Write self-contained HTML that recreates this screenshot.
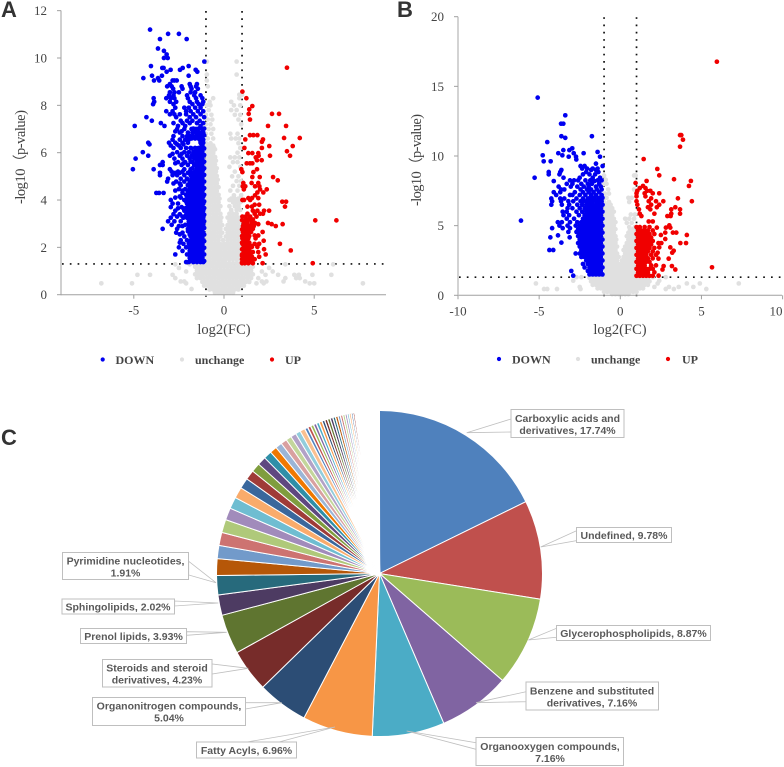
<!DOCTYPE html>
<html lang="en">
<head>
<meta charset="utf-8">
<title>Volcano plots and class pie chart</title>
<style>
html,body{margin:0;padding:0;background:#fff;width:784px;height:767px;overflow:hidden}
svg{display:block;filter:blur(.3px)}
.tick{font:13px "Liberation Serif",serif;fill:#444}
.title{font:14.5px "Liberation Serif",serif;fill:#444}
.leg{font:bold 12px "Liberation Serif",serif;fill:#444}
.letter{font:bold 22px "Liberation Sans",sans-serif;fill:#333}
.pl{font:bold 10.5px "Liberation Sans",sans-serif;fill:#595959;text-anchor:middle}
.box{fill:#fff;stroke:#bfbfbf;stroke-width:1}
.lead{fill:#fff;stroke:#bfbfbf;stroke-width:.8}
</style>
</head>
<body>
<svg id="root" width="784" height="767" viewBox="0 0 784 767" xmlns="http://www.w3.org/2000/svg">
  <text class="letter" x="1" y="17">A</text>
  <text class="letter" x="397" y="17">B</text>
  <text class="letter" x="1" y="445">C</text>
  <g id="panelA"></g>
  <g id="panelB"></g>

  <text class="title" x="224" y="334" text-anchor="middle">log2(FC)</text>
  <text class="title" transform="translate(25,157) rotate(-90)" text-anchor="middle" textLength="94" lengthAdjust="spacing">-log10（p-value)</text>
  <text class="title" x="620" y="334" text-anchor="middle">log2(FC)</text>
  <text class="title" transform="translate(421,160) rotate(-90)" text-anchor="middle" textLength="92" lengthAdjust="spacing">-log10（p-value)</text>

  <g>
    <circle cx="102.7" cy="359.5" r="2.1" fill="#0000f0"/>
    <text class="leg" x="115.5" y="364">DOWN</text>
    <circle cx="182" cy="359.5" r="2.1" fill="#e0e0e0"/>
    <text class="leg" x="195" y="364">unchange</text>
    <circle cx="272" cy="359.5" r="2.1" fill="#f00000"/>
    <text class="leg" x="285" y="364">UP</text>
  </g>
  <g>
    <circle cx="499" cy="359" r="2.1" fill="#0000f0"/>
    <text class="leg" x="512" y="363.5">DOWN</text>
    <circle cx="578" cy="359" r="2.1" fill="#e0e0e0"/>
    <text class="leg" x="591" y="363.5">unchange</text>
    <circle cx="668" cy="359" r="2.1" fill="#f00000"/>
    <text class="leg" x="682" y="363.5">UP</text>
  </g>

  <g id="pie"></g>

  <g>
    <g>
      <polygon class="lead" points="511,419 511,432 466.7,432.7"/>
      <rect class="box" x="511" y="409.5" width="113" height="28"/>
      <text class="pl" x="567.5" y="422">Carboxylic acids and</text>
      <text class="pl" x="567.5" y="434">derivatives, 17.74%</text>
    </g>
    <g>
      <polygon class="lead" points="576.5,530.7 576.5,540.7 540.7,547"/>
      <rect class="box" x="576.5" y="527.5" width="95" height="15"/>
      <text class="pl" x="624" y="539">Undefined, 9.78%</text>
    </g>
    <g>
      <polygon class="lead" points="556.5,628.3 556.5,637.3 528.3,640"/>
      <rect class="box" x="556.5" y="625.5" width="154" height="15"/>
      <text class="pl" x="633.5" y="637">Glycerophospholipids, 8.87%</text>
    </g>
    <g>
      <polygon class="lead" points="526,691.7 526,701.7 476,702.7"/>
      <rect class="box" x="526" y="682" width="132.5" height="28"/>
      <text class="pl" x="592" y="694.5">Benzene and substituted</text>
      <text class="pl" x="592" y="706.5">derivatives, 7.16%</text>
    </g>
    <g>
      <polygon class="lead" points="476,742.7 476,749.3 406.7,731"/>
      <rect class="box" x="476" y="737.5" width="147.5" height="28"/>
      <text class="pl" x="550" y="750">Organooxygen compounds,</text>
      <text class="pl" x="550" y="762">7.16%</text>
    </g>
    <g>
      <polygon class="lead" points="247,742 279,742 335,727"/>
      <rect class="box" x="196.5" y="742" width="100" height="16"/>
      <text class="pl" x="246.5" y="754">Fatty Acyls, 6.96%</text>
    </g>
    <g>
      <polygon class="lead" points="245.3,702.7 245.3,709 281.7,702.7"/>
      <rect class="box" x="92.5" y="697.5" width="153" height="28"/>
      <text class="pl" x="169" y="709.5">Organonitrogen compounds,</text>
      <text class="pl" x="169" y="721.5">5.04%</text>
    </g>
    <g>
      <polygon class="lead" points="212,664 212,674 248.3,668.3"/>
      <rect class="box" x="102.5" y="659.5" width="109.5" height="27.5"/>
      <text class="pl" x="157" y="671.5">Steroids and steroid</text>
      <text class="pl" x="157" y="683.5">derivatives, 4.23%</text>
    </g>
    <g>
      <polygon class="lead" points="186.7,631.7 186.7,635.3 226.7,632.3"/>
      <rect class="box" x="80.5" y="628.5" width="106" height="15"/>
      <text class="pl" x="133.5" y="640">Prenol lipids, 3.93%</text>
    </g>
    <g>
      <polygon class="lead" points="174.7,601 174.7,606 218.3,603"/>
      <rect class="box" x="62" y="599" width="112.5" height="15"/>
      <text class="pl" x="118" y="610.5">Sphingolipids, 2.02%</text>
    </g>
    <g>
      <polygon class="lead" points="188.7,561.3 188.7,575 216,582.7"/>
      <rect class="box" x="62.5" y="552.5" width="126" height="27"/>
      <text class="pl" x="125.5" y="564.5">Pyrimidine nucleotides,</text>
      <text class="pl" x="125.5" y="576.5">1.91%</text>
    </g>
  </g>
</svg>

<script>
// Volcano data: each row is [-log10 p, log2FC, log2FC, ...]
const aDownRows = [
[11.2,-4.1],[11.02,-3.1,-2.5],[10.8,-3.55,-2.07],[10.4,-3.66],[10.3,-3.33],[10.15,-3.18],[10.0,-3.12,-3.33],[9.85,-1.09],
[9.66,-4.05,-1.96],[9.58,-3.42,-3.35,-2.29],[9.5,-2.96,-2.44,-1.57],[9.42,-3.18,-1.48],[9.25,-3.99,-3.44,-1.96],[9.15,-4.47,-3.66],
[9.05,-3.88,-3.59,-2.85,-2.62,-2.75],[8.9,-3.0,-1.5,-1.9],[8.8,-3.15,-2.9,-2.35,-1.85,-1.55],[8.7,-2.82,-2.3,-1.8,-1.45],
[8.55,-3.0,-2.75,-2.5,-1.85,-1.6],[8.42,-3.05,-2.8,-2.05,-1.65,-1.3],[8.3,-3.9,-3.2,-2.95,-2.75,-2.0,-1.55,-1.2],
[8.15,-3.87,-3.0,-2.65,-1.9,-1.5,-1.15],[8.05,-3.93,-2.8,-1.75,-1.4,-1.2],[7.9,-2.7,-2.2,-1.95,-1.6,-1.3],
[7.75,-3.2,-2.85,-2.1,-1.85,-1.45,-1.15],[7.62,-3.0,-2.75,-2.45,-2.1,-1.7,-1.3],[7.5,-4.3,-2.65,-1.9,-1.55,-1.1],
[7.35,-4.0,-2.4,-2.05,-1.75,-1.35],[7.25,-3.5,-2.8,-2.3,-1.9,-1.5,-1.15],[7.13,-4.95,-3.3,-2.55,-2.15,-1.3],
[7.0,-2.6,-2.2,-1.8,-1.55,-1.2],[6.85,-2.45,-2.0,-1.75,-1.4,-1.15],[6.7,-2.8,-2.3,-2.05,-1.9,-1.7,-1.5,-1.2],
[6.55,-2.85,-2.45,-2.15,-1.95,-1.35,-1.15],[6.42,-4.2,-3.05,-2.7,-2.3,-2.0,-1.3,-1.15],[6.35,-4.13,-2.6,-2.25,-1.25],
[6.2,-2.8,-2.4,-2.1,-1.85,-1.6,-1.4,-1.15],[6.02,-4.5,-2.6,-2.2,-1.95,-1.7,-1.5,-1.25],[5.87,-4.2,-3.0,-2.45,-2.05,-1.8,-1.55,-1.15],
[5.75,-4.9,-2.75,-2.3,-1.9,-1.65,-1.35],[5.6,-3.4,-2.55,-2.15,-1.75,-1.5,-1.15],[5.48,-3.55,-3.4,-2.35,-2.0,-1.65,-1.3],
[5.3,-5.05,-3.9,-3.0,-2.2,-1.85,-1.5,-1.15],[5.15,-3.55,-2.7,-2.45,-2.0,-1.7,-1.35],[5.05,-3.55,-2.85,-2.6,-2.2,-1.85,-1.55,-1.15],
[4.9,-3.1,-2.4,-2.05,-1.7,-1.35],[4.78,-3.15,-2.65,-2.2,-1.9,-1.5,-1.15],[4.62,-2.4,-2.0,-1.75,-1.55,-1.3],
[4.46,-2.5,-2.15,-1.9,-1.65,-1.45,-1.15],[4.3,-3.75,-3.6,-3.35,-2.3,-2.0,-1.75,-1.5,-1.3],[4.15,-2.45,-2.05,-1.85,-1.6,-1.4,-1.15],
[4.0,-2.95,-2.2,-1.95,-1.7,-1.5,-1.3],[3.85,-2.85,-2.55,-2.05,-1.8,-1.6,-1.4,-1.15],[3.7,-2.95,-2.35,-1.95,-1.75,-1.5,-1.3],
[3.55,-2.7,-2.2,-2.0,-1.8,-1.6,-1.4,-1.15],[3.4,-2.8,-2.45,-1.95,-1.7,-1.5,-1.3],[3.25,-2.95,-2.25,-2.05,-1.8,-1.6,-1.4,-1.15],
[3.1,-3.1,-2.75,-2.4,-1.95,-1.7,-1.5,-1.3],[2.95,-2.9,-2.15,-1.85,-1.65,-1.45,-1.15],[2.78,-3.4,-2.6,-2.0,-1.75,-1.55,-1.3],
[2.62,-2.65,-2.3,-1.9,-1.65,-1.45,-1.15],[2.46,-2.2,-1.85,-1.6,-1.4,-1.25],[2.3,-2.4,-2.05,-1.75,-1.5,-1.3,-1.15],
[2.15,-2.25,-1.95,-1.65,-1.45,-1.2],[2.0,-2.5,-2.1,-1.8,-1.55,-1.35,-1.15],[1.85,-2.3,-1.9,-1.65,-1.4,-1.2],
[1.7,-2.7,-2.05,-1.75,-1.5,-1.3,-1.15],[1.55,-1.9,-1.6,-1.4,-1.2],[1.38,-2.1,-1.95,-1.7,-1.5,-1.3,-1.15]
];
const aDownScatter = [
[6.9,-2.7,-2.35],[6.3,-2.95,-2.5],[5.95,-2.85,-2.35],[5.55,-2.7,-2.25],[5.2,-2.9,-2.55,-2.3],[4.7,-2.8,-2.45],[4.4,-2.7,-2.3],[4.1,-2.7,-2.4],[3.65,-2.55,-2.25],[3.3,-2.6,-2.3],[2.9,-2.5,-2.3],[2.55,-2.45],[2.2,-2.45]
];
const aDownCore = [
[1.42,-1.1,-1.3,-1.5,-1.7,-1.9],[1.56,-1.2,-1.4,-1.6,-1.8],[1.7,-1.1,-1.3,-1.5,-1.7,-1.9],[1.84,-1.2,-1.4,-1.6,-1.8],[1.98,-1.1,-1.3,-1.5,-1.7,-1.9],
[2.12,-1.2,-1.4,-1.6,-1.8],[2.26,-1.1,-1.3,-1.5,-1.7,-1.9],[2.4,-1.2,-1.4,-1.6,-1.8],[2.54,-1.1,-1.3,-1.5,-1.7,-1.9],[2.68,-1.2,-1.4,-1.6,-1.8,-2.0],
[2.82,-1.1,-1.3,-1.5,-1.7,-1.9],[2.96,-1.2,-1.4,-1.6,-1.8,-2.0],[3.1,-1.1,-1.3,-1.5,-1.7,-1.9],[3.24,-1.2,-1.4,-1.6,-1.8,-2.0],[3.38,-1.1,-1.3,-1.5,-1.7,-1.9,-2.1],
[3.52,-1.2,-1.4,-1.6,-1.8,-2.0],[3.66,-1.1,-1.3,-1.5,-1.7,-1.9,-2.1],[3.8,-1.2,-1.4,-1.6,-1.8,-2.0],[3.94,-1.1,-1.3,-1.5,-1.7,-1.9,-2.1],[4.08,-1.2,-1.4,-1.6,-1.8,-2.0],
[4.22,-1.1,-1.3,-1.5,-1.7,-1.9,-2.1],[4.36,-1.2,-1.4,-1.6,-1.8,-2.0],[4.5,-1.1,-1.3,-1.5,-1.7,-1.9],[4.64,-1.2,-1.4,-1.6,-1.8,-2.0],[4.78,-1.1,-1.3,-1.5,-1.7,-1.9],
[4.92,-1.2,-1.4,-1.6,-1.8],[5.06,-1.1,-1.3,-1.5,-1.7],[5.2,-1.2,-1.4,-1.6,-1.9],[5.34,-1.1,-1.3,-1.5,-1.75],[5.48,-1.2,-1.4,-1.6],[5.62,-1.1,-1.3,-1.5,-1.85],
[5.76,-1.2,-1.4,-1.6],[5.9,-1.1,-1.3,-1.5,-1.75],[6.04,-1.2,-1.4,-1.6],[6.18,-1.1,-1.3,-1.5,-1.8],[6.32,-1.2],[6.6,-1.2,-1.4,-1.6,-1.8],[6.74,-1.1,-1.3,-1.5],[6.88,-1.2,-1.6],[7.02,-1.1,-1.4,-1.7]
];
const aGreyRows = [
[9.85,-0.95,0.7],[9.3,0.7,-0.95],[9.05,-0.95],[8.8,-0.9],[8.45,0.85,1.0],[8.3,-0.6,0.85],[8.15,-0.8,0.4],[8.0,-0.95,-0.75,0.55,0.9],
[7.8,-0.85,0.4,0.7],[7.6,-1.0,-0.7,0.6,0.9],[7.4,-0.9,-0.65,0.8],[7.2,-1.0,-0.75,0.95],[7.0,-0.85,-0.6],[6.8,-1.0,-0.7,0.35,0.75],
[6.6,-0.9,-0.6,0.4,0.65,0.85],[6.4,-1.0,-0.75,0.8],[6.2,-0.9,-0.7,-0.55,0.9],[6.0,-1.0,-0.8,-0.6,0.75],[5.8,-0.9,-0.7,-0.5,0.35,0.6,0.85],
[5.6,-1.0,-0.85,-0.65,0.5,0.75],[5.4,-0.95,-0.75,-0.55,0.3,0.9],[5.2,-1.0,-0.85,-0.65,-0.45,0.6],[5.0,-0.95,-0.75,-0.55,0.45,0.8],
[4.8,-1.0,-0.85,-0.65,-0.45,0.7,0.95],[4.6,0.5,0.85],[4.4,0.35,0.75],[4.2,0.55,0.95],[4.0,0.3,0.7,0.9],
[1.28,-2.7,-1.9,3.4,6.05],[1.13,-2.5,2.5],[0.98,-2.1,2.1,2.7],[0.84,-4.8,-4.1,-2.85,2.3,3.0,3.9,4.15,4.9,5.95],
[0.7,-2.7,1.9,3.4,4.0,4.2],[0.56,-2.4,-2.2,2.1,2.35,3.3,4.5],[0.48,-6.8,-5.1,-2.1,1.8,2.2,4.75,5.0,7.7],[0.24,-1.8]
];
const aGreyCore = [
[6.3,-1.0,-0.8,-0.6],[6.14,-0.9,-0.7,-0.5],[5.98,-1.0,-0.8,-0.6],[5.82,-0.9,-0.7,-0.5],[5.66,-1.0,-0.8,-0.6,-0.45],[5.5,-0.9,-0.7,-0.5],[5.34,-1.0,-0.8,-0.6,-0.4],[5.18,-0.9,-0.7,-0.5],
[5.02,-1.0,-0.8,-0.6,-0.4],[4.86,-0.9,-0.7,-0.5,-0.35],[4.7,-1.0,-0.8,-0.6,-0.4],[4.54,-0.9,-0.7,-0.5,-0.3],[4.38,-1.0,-0.8,-0.6,-0.4],[4.22,-0.9,-0.7,-0.5,-0.3],
[4.06,-1.0,-0.8,-0.6,-0.4,-0.25,0.4,0.6,0.8],[3.9,-0.9,-0.7,-0.5,-0.3,0.5,0.7,0.9],[3.74,-1.0,-0.8,-0.6,-0.4,-0.2,0.3,0.6,0.8],[3.58,-0.9,-0.7,-0.5,-0.3,0.4,0.7,0.9],
[3.42,-1.0,-0.8,-0.6,-0.4,-0.2,0.3,0.5,0.7],[3.26,-0.9,-0.7,-0.5,-0.3,-0.15,0.2,0.4,0.6,0.8],[3.1,-1.0,-0.8,-0.6,-0.4,-0.2,0.3,0.5,0.7,0.9],[2.94,-0.9,-0.7,-0.5,-0.3,-0.1,0.2,0.4,0.6,0.8],
[2.78,-1.0,-0.8,-0.6,-0.4,-0.2,0.1,0.3,0.5,0.7,0.9],[2.62,-0.9,-0.7,-0.5,-0.3,-0.1,0.2,0.4,0.6,0.8,1.0],[2.46,-1.0,-0.8,-0.6,-0.4,-0.2,0.1,0.3,0.5,0.7,0.9],[2.3,-0.9,-0.7,-0.5,-0.3,-0.05,0.2,0.4,0.6,0.8,1.0],
[2.14,-1.0,-0.8,-0.6,-0.4,-0.2,0,0.1,0.3,0.5,0.7,0.9],[1.98,-0.9,-0.7,-0.5,-0.3,-0.1,0.1,0.2,0.4,0.6,0.8,1.0],[1.82,-1.0,-0.8,-0.6,-0.4,-0.2,0,0.1,0.3,0.5,0.7,0.9],[1.66,-0.9,-0.7,-0.5,-0.3,-0.1,0.1,0.2,0.4,0.6,0.8,1.0],
[1.5,-1.0,-0.8,-0.6,-0.4,-0.2,0,0.1,0.3,0.5,0.7,0.9],[1.34,-1.7,-1.5,-1.3,-1.1,-0.9,-0.7,-0.5,-0.3,-0.1,0.1,0.3,0.5,0.7,0.9,1.1,1.3,1.5],
[1.18,-1.6,-1.4,-1.2,-1.0,-0.8,-0.6,-0.4,-0.2,0,0.2,0.4,0.6,0.8,1.0,1.2,1.4,1.6],[1.02,-1.5,-1.3,-1.1,-0.9,-0.7,-0.5,-0.3,-0.1,0.1,0.3,0.5,0.7,0.9,1.1,1.3,1.5],
[0.86,-1.6,-1.4,-1.2,-1.0,-0.8,-0.6,-0.4,-0.2,0,0.2,0.4,0.6,0.8,1.0,1.2,1.4,1.6],[0.7,-1.5,-1.3,-1.1,-0.9,-0.7,-0.5,-0.3,-0.1,0.1,0.3,0.5,0.7,0.9,1.1,1.3,1.5],
[0.54,-1.2,-1.0,-0.8,-0.6,-0.4,-0.2,0,0.2,0.4,0.6,0.8,1.0,1.2,1.4],[0.38,-1.1,-0.9,-0.7,-0.5,-0.3,-0.1,0.1,0.3,0.5,0.7,0.9,1.1],[0.22,-0.8,-0.6,-0.4,-0.2,0,0.2,0.4,0.6,0.8],[0.08,-0.5,-0.3,-0.1,0.1,0.3,0.5]
];
const aUpRows = [
[9.59,3.49],[8.58,1.02],[8.3,1.24],[7.97,1.57],[7.83,1.4],[7.64,1.37,2.66,3.05],[7.4,1.44],[7.13,2.44,3.44],[6.74,1.44,1.63,1.85],[6.62,3.33,4.2],
[6.56,1.18,2.16],[6.46,2.1],[6.28,2.51,3.81],[6.2,1.13,2.1],[6.06,3.49],[5.98,1.35,1.57,1.9],[5.87,1.92,2.55,3.66],[5.8,1.76],[5.68,1.83,2.09],
[5.55,1.26,1.44,1.57],[5.3,0.96,1.83],[5.18,1.02,1.63],[4.97,2.72,1.57,1.98],[4.83,2.98],[4.72,1.07,1.53,1.9],[4.58,1.04,1.18,1.72,1.96],
[4.45,1.1,2.0,2.37],[4.32,2.18,1.85],[4.2,1.72],[4.08,1.35,1.55,1.9],[4.0,1.02,1.11,1.45],[3.93,3.23,3.44],[3.8,1.7,1.95],[3.72,3.38,1.3,1.55],
[3.55,1.6,1.85,2.22,2.5],[3.42,1.3,1.7,2.16,2.0],[3.3,1.02,1.2,1.45,1.8],[3.18,1.35,1.6],[3.14,5.06,6.23],[3.03,1.1,1.3,1.55,1.72,2.44],[2.98,2.64,3.25,1.9],
[2.9,1.05,1.25,1.45,2.87],[2.78,1.15,1.35,1.6],[2.65,1.05,1.3,1.5,2.14],[2.5,1.1,1.25,1.7,1.9],[2.38,1.02,1.18,1.35,1.75],[2.28,1.1,1.28,2.2],
[2.15,1.02,1.2,1.4,1.7,1.95,3.1],[2.02,1.1,1.3,1.55,1.85],[1.92,1.02,1.2,1.4,2.22],[1.87,3.7],[1.8,1.1,1.3,1.6,1.9],[1.7,1.0,1.2,1.45,2.31],
[1.6,1.1,1.3,1.55,1.95],[1.5,1.0,1.2,1.4,1.7],[1.4,1.08,1.25,1.5],[1.33,1.0,1.15,1.35,1.6,2.14,4.92]
];
const aUpCore = [
[1.36,1.0,1.2,1.4],[1.5,1.1,1.3,1.5],[1.64,1.0,1.2,1.4],[1.78,1.1,1.3,1.5],[1.92,1.0,1.2,1.4],[2.06,1.1,1.3,1.5],[2.2,1.0,1.2,1.4],[2.34,1.1,1.3],[2.48,1.0,1.2,1.4],[2.62,1.1,1.3],[2.76,1.0,1.2,1.4,1.55],[2.9,1.1,1.3,1.65],[3.15,1.0,1.2,1.5]
];
const bDownRows = [
[14.19,-5.09],[12.92,-3.39],[12.32,-3.65,-3.51],[11.42,-3.63,-1.75],[11.3,-3.39],[11.0,-4.5],[10.55,-2.96],[10.42,-3.51,-3.14],[10.29,-1.4],
[10.2,-3.82,-2.87,-2.26],[10.05,-4.78,-3.57],[9.95,-3.18,-2.73,-1.25],[9.75,-2.71],[9.62,-4.72,-4.29],[9.45,-1.5],[9.28,-2.45,-2.2,-1.09],
[9.1,-2.35,-2.05,-1.7,-1.4],[9.0,-3.63,-1.8,-1.5],[8.85,-4.41,-3.7,-2.1,-1.35],[8.68,-4.41,-3.75,-2.3,-1.9,-1.55],[8.44,-5.28,-3.5,-2.5,-1.7,-1.25],
[8.25,-3.1,-2.85,-2.6,-2.15,-1.85,-1.4,-1.15],[8.2,-4.1,-1.6],[8.0,-3.3,-2.95,-2.4,-2.0,-1.75,-1.3],[7.8,-3.8,-3.05,-2.65,-2.25,-1.95,-1.5,-1.2],
[7.6,-3.65,-3.45,-2.45,-2.05,-1.8,-1.45,-1.15],[7.4,-4.1,-3.7,-2.8,-2.3,-1.95,-1.65,-1.3],[7.2,-3.95,-3.1,-2.95,-2.5,-2.15,-1.8,-1.5,-1.15],
[6.95,-4.25,-3.7,-3.45,-2.7,-2.3,-2.0,-1.7,-1.35],[6.75,-4.2,-3.65,-3.2,-2.9,-2.45,-2.1,-1.8,-1.5,-1.15],[6.5,-4.25,-3.6,-3.15,-2.65,-2.35,-2.0,-1.7,-1.35,-1.1],
[6.25,-3.25,-2.95,-2.5],[6.0,-3.55,-3.3,-2.7],[5.75,-3.5,-3.15,-2.55],[5.5,-3.3,-2.85],[5.36,-6.12],[5.25,-3.85,-3.6,-3.1,-2.65],[5.0,-3.75,-3.25,-2.75],
[4.82,-4.2,-3.55,-3.1],[4.55,-3.2,-2.7],[4.3,-3.84],[4.16,-4.31,-3.12],[3.78,-3.63],[3.25,-4.37,-4.13],[3.0,-2.75],[1.75,-3.02],[1.41,-2.9]
];
const bDownCore = [
[1.5,-1.1,-1.3,-1.5,-1.7,-1.9],[1.75,-1.2,-1.4,-1.6,-1.8,-2.0],[2.0,-1.1,-1.3,-1.5,-1.7,-1.9,-2.2],[2.25,-1.2,-1.4,-1.6,-1.8,-2.0,-2.3],[2.5,-1.1,-1.3,-1.5,-1.7,-1.9,-2.1],
[2.75,-1.2,-1.4,-1.6,-1.8,-2.0,-2.2,-2.4],[3.0,-1.1,-1.3,-1.5,-1.7,-1.9,-2.1,-2.3,-2.5],[3.25,-1.2,-1.4,-1.6,-1.8,-2.0,-2.2,-2.4],[3.5,-1.1,-1.3,-1.5,-1.7,-1.9,-2.1,-2.3,-2.5],
[3.75,-1.2,-1.4,-1.6,-1.8,-2.0,-2.2,-2.4,-2.6],[4.0,-1.1,-1.3,-1.5,-1.7,-1.9,-2.1,-2.3,-2.5],[4.25,-1.2,-1.4,-1.6,-1.8,-2.0,-2.2,-2.4,-2.6],[4.5,-1.1,-1.3,-1.5,-1.7,-1.9,-2.1,-2.3,-2.5],
[4.75,-1.2,-1.4,-1.6,-1.8,-2.0,-2.2,-2.4,-2.6],[5.0,-1.1,-1.3,-1.5,-1.7,-1.9,-2.1,-2.3,-2.5],[5.25,-1.2,-1.4,-1.6,-1.8,-2.0,-2.2,-2.4],[5.5,-1.1,-1.3,-1.5,-1.7,-1.9,-2.1,-2.3],
[5.75,-1.2,-1.4,-1.6,-1.8,-2.0,-2.2],[6.0,-1.1,-1.3,-1.5,-1.7,-1.9,-2.1,-2.35],[6.25,-1.2,-1.4,-1.6,-1.8,-2.0,-2.2],[6.5,-1.1,-1.3,-1.5,-1.9,-2.1],[6.75,-1.2,-1.4,-1.7,-2.0,-2.3],[7.0,-1.1,-1.3,-1.6,-1.85]
];
const bGreyRows = [
[8.6,-1.0,0.85,0.95],[8.3,-0.9],[8.0,-1.0,-0.85],[7.6,-0.75,0.85],[7.3,-0.95,-0.7],[7.0,-0.85,0.5,0.7],[6.7,-1.0,-0.7,0.55],[6.4,-0.9,-0.65],
[5.8,0.65,0.9],[5.5,0.3,0.55,0.85],[5.2,0.4,0.7],[4.9,0.55,0.9],
[1.3,-2.7,-2.4,2.0,2.8],[1.05,-2.9,2.4],[0.85,-5.2,2.3,4.1,4.9,7.3],[0.6,-2.5,2.1,3.0,3.6,4.5],[0.45,-4.7,-4.5,-3.9,-2.45,2.8,3.3,5.3]
];
const bGreyCore = [
[6.5,-1.0,-0.8,-0.6],[6.25,-0.9,-0.7,-0.5],[6.0,-1.0,-0.8,-0.6,-0.4],[5.75,-0.9,-0.7,-0.5],[5.5,-1.0,-0.8,-0.6,-0.4],[5.25,-0.9,-0.7,-0.5,-0.3],[5.0,-1.0,-0.8,-0.6,-0.4],[4.75,-0.9,-0.7,-0.5,-0.3,0.6,0.8],
[4.5,-1.0,-0.8,-0.6,-0.4,0.5,0.7,0.9],[4.25,-0.9,-0.7,-0.5,-0.3,0.4,0.6,0.8],[4.0,-1.0,-0.8,-0.6,-0.4,-0.25,0.5,0.7,0.9],[3.75,-0.9,-0.7,-0.5,-0.3,0.4,0.6,0.8],[3.5,-1.0,-0.8,-0.6,-0.4,-0.2,0.3,0.5,0.7,0.9],
[3.25,-0.9,-0.7,-0.5,-0.3,0.2,0.4,0.6,0.8],[3.0,-1.0,-0.8,-0.6,-0.4,-0.2,0.3,0.5,0.7,0.9],[2.75,-0.9,-0.7,-0.5,-0.3,-0.1,0.2,0.4,0.6,0.8],[2.5,-1.0,-0.8,-0.6,-0.4,-0.2,0.1,0.3,0.5,0.7,0.9],
[2.25,-0.9,-0.7,-0.5,-0.3,-0.1,0.1,0.2,0.4,0.6,0.8],[2.0,-1.0,-0.8,-0.6,-0.4,-0.2,0,0.1,0.3,0.5,0.7,0.9],[1.75,-0.9,-0.7,-0.5,-0.3,-0.1,0.1,0.2,0.4,0.6,0.8],[1.5,-1.0,-0.8,-0.6,-0.4,-0.2,0,0.1,0.3,0.5,0.7,0.9],
[1.25,-1.9,-1.7,-1.5,-1.3,-1.1,-0.9,-0.7,-0.5,-0.3,-0.1,0.1,0.3,0.5,0.7,0.9,1.1,1.3,1.5,1.7],[1.0,-1.8,-1.6,-1.4,-1.2,-1.0,-0.8,-0.6,-0.4,-0.2,0,0.2,0.4,0.6,0.8,1.0,1.2,1.4,1.6,1.8],
[0.75,-1.7,-1.5,-1.3,-1.1,-0.9,-0.7,-0.5,-0.3,-0.1,0.1,0.3,0.5,0.7,0.9,1.1,1.3,1.5,1.7],[0.5,-1.4,-1.2,-1.0,-0.8,-0.6,-0.4,-0.2,0,0.2,0.4,0.6,0.8,1.0,1.2,1.4],
[0.25,-1.0,-0.8,-0.6,-0.4,-0.2,0,0.2,0.4,0.6,0.8,1.0],[0.08,-0.5,-0.3,-0.1,0.1,0.3,0.5]
];
const bUpRows = [
[16.77,5.95],[11.5,3.68,3.76],[11.17,3.86],[10.67,3.68],[9.78,1.44],[9.07,2.28],[8.61,2.4],[8.33,3.31],[8.21,4.35,1.62],[8.06,0.94],[7.85,4.23,1.4],
[7.7,1.2,1.55],[7.5,1.65,1.85,1.05],[7.32,2.4,1.0,1.5,2.0],[7.1,1.55,1.0],[6.96,3.55,1.9],[6.75,4.41,2.65,1.0,2.2,1.75],[6.5,1.05,1.9,2.4],[6.32,3.39,2.25,1.7],
[6.17,3.14,3.68,1.15,1.85],[5.86,3.14,3.68,1.2,2.1],[5.69,2.9,3.1,1.3],[5.3,1.75,2.0],[5.02,3.02],[4.86,2.81,3.08,2.25],[4.5,3.24,3.45,2.77],[4.33,4.1,2.5],
[4.04,2.77],[3.75,2.53,3.7,4.05,2.35],[3.44,3.08,2.4],[3.2,3.29],[3.06,3.2,2.3],[2.63,2.98,2.35],[2.1,3.18,2.67],[2.01,5.65],[1.85,3.39,2.6],[1.41,2.36]
];
const bUpCore = [
[1.4,1.0,1.2,1.4,1.6,1.8,2.0],[1.65,1.1,1.3,1.5,1.7,2.1],[1.9,1.0,1.2,1.4,1.6,1.8,2.0],[2.15,1.1,1.3,1.5,1.9,2.2],[2.4,1.0,1.2,1.4,1.6,1.8],[2.65,1.1,1.3,1.5,1.7,2.0],[2.9,1.0,1.2,1.4,1.6,1.9,2.2],
[3.15,1.1,1.3,1.5,1.7,2.0],[3.4,1.0,1.2,1.4,1.6,1.8,2.1],[3.65,1.1,1.3,1.5,1.7,1.9],[3.9,1.0,1.2,1.4,1.6,1.8,2.0],[4.15,1.1,1.3,1.5,1.7,1.9],[4.4,1.0,1.2,1.4,1.6,1.8,2.1],[4.65,1.1,1.3,1.5,1.7,2.0],[4.9,1.0,1.2,1.5,1.8]
];
// Pie data: share of each class, clockwise from the top, in percent
const pieValues = [17.74,9.78,8.87,7.16,7.16,6.96,5.04,4.23,3.93,2.02,1.91,
1.66,1.3,1.3,1.3,1.2,1.15,1.1,1.05,.95,.9,.85,.8,.7,.65,.6,.55,.55,.5,.5,
.32,.32,.3,.3,.3,.3,.28,.28,.28,.28,.26,.26,.24,.24,.22,.22,.2,.2,.18,.18,
.08,.08,.08,.08,.08,.08,.08,.08,.08,.08,.08,.08,.08,.08,.08,.08,.08,.08,.08,.08,.08,.08,.08,.08,.08,.08,.08,.08,.08,.08];
const pieColors = ["#4f81bd","#c0504d","#9bbb59","#8064a2","#4bacc6","#f79646","#2c4d75","#772c2a","#5f7530","#4d3b62","#276a7c","#b65708","#729aca","#cd7371","#afc97a","#a18bbb","#6fbdd1","#f9ab6b","#3a679c","#9f3b38","#7f9d3e","#5f4880","#2f8fa8","#f07800","#9bb5d6","#d9a0a0","#c3d69b","#b2a2c7","#92cddc","#fac090"];
const xTicksA = [-5,0,5];
const xTicksB = [-10,-5,0,5,10];
const yTicksA = [0,2,4,6,8,10,12];
const yTicksB = [0,5,10,15,20];
const pThreshold = 1.3;
const fcThresholds = [-1,1];

const SVGNS = "http://www.w3.org/2000/svg";
function mk(tag, parent){ const e = document.createElementNS(SVGNS, tag); parent.appendChild(e); return e; }

function drawVolcano(root, id, sx, sy, ext, xTicks, yTicks, rows, yAxisStyle){
  const x0 = ext.left, x1 = ext.right, y0 = ext.bottom, y1 = ext.top;
  fcThresholds.forEach(function(v){
    const d = mk("line", root);
    d.setAttribute("x1", sx(v)); d.setAttribute("x2", sx(v));
    d.setAttribute("y1", y1 + .5); d.setAttribute("y2", y0 + 2);
    d.setAttribute("stroke", "#111"); d.setAttribute("stroke-width", "1.7");
    d.setAttribute("stroke-dasharray", "1.7 5.6");
    
    
  });
  const h = mk("line", root);
  h.setAttribute("x1", x0 + 1); h.setAttribute("x2", x1);
  h.setAttribute("y1", sy(pThreshold)); h.setAttribute("y2", sy(pThreshold));
  h.setAttribute("stroke", "#111"); h.setAttribute("stroke-width", "1.7");
  h.setAttribute("stroke-dasharray", "1.7 6.1");
  
  
  rows.forEach(function(group){
    const series = mk("g", root);
    
    
    group.data.forEach(function(row){
      for (let i = 1; i < row.length; i++) {
        const c = mk("circle", series);
        c.setAttribute("cx", sx(row[i]).toFixed(2));
        c.setAttribute("cy", sy(row[0]).toFixed(2));
        c.setAttribute("r", "2.35");
        c.setAttribute("fill", group.color);
        
        
      }
    });
  });
  const xAxis = mk("line", root);
  xAxis.setAttribute("x1", x0); xAxis.setAttribute("x2", x1);
  xAxis.setAttribute("y1", y0); xAxis.setAttribute("y2", y0);
  xAxis.setAttribute("stroke", "#a0a0a0"); xAxis.setAttribute("stroke-width", "1");
  
  
  const yAxis = mk("line", root);
  yAxis.setAttribute("x1", x0); yAxis.setAttribute("x2", x0);
  yAxis.setAttribute("y1", y1); yAxis.setAttribute("y2", y0 + .5);
  yAxis.setAttribute("stroke", yAxisStyle.color); yAxis.setAttribute("stroke-width", yAxisStyle.width);
  
  
  xTicks.forEach(function(v){
    const t = mk("line", root);
    t.setAttribute("x1", sx(v)); t.setAttribute("x2", sx(v));
    t.setAttribute("y1", y0); t.setAttribute("y2", y0 + 4);
    t.setAttribute("stroke", "#a0a0a0");
    
    
    const l = mk("text", root);
    l.setAttribute("class", "tick");
    l.setAttribute("x", Math.min(sx(v), 776));
    l.setAttribute("y", y0 + 20);
    l.setAttribute("text-anchor", "middle");
    l.textContent = v;
    
    
  });
  yTicks.forEach(function(v){
    const t = mk("line", root);
    t.setAttribute("x1", x0 - 4); t.setAttribute("x2", x0);
    t.setAttribute("y1", sy(v)); t.setAttribute("y2", sy(v));
    t.setAttribute("stroke", "#a0a0a0");
    
    
    const l = mk("text", root);
    l.setAttribute("class", "tick");
    l.setAttribute("x", x0 - 14); l.setAttribute("y", sy(v) + 4.5);
    l.setAttribute("text-anchor", "end");
    l.textContent = v;
    
    
  });
}

drawVolcano(document.getElementById("panelA"), "a",
  function(v){ return 224 + v * 18.04; },
  function(v){ return 294.7 - v * 23.67; },
  {left:61, right:386, bottom:294.7, top:10.5},
  xTicksA, yTicksA,
  [{name:"unchange", color:"#e0e0e0", data:aGreyCore.concat(aGreyRows)},
   {name:"down", color:"#0000f0", data:aDownCore.concat(aDownRows, aDownScatter)},
   {name:"up", color:"#f00000", data:aUpCore.concat(aUpRows)}],
  {color:"#a0a0a0", width:1});

drawVolcano(document.getElementById("panelB"), "b",
  function(v){ return 620.3 + v * 16.23; },
  function(v){ return 295.3 - v * 13.93; },
  {left:458, right:782, bottom:295.3, top:16.7},
  xTicksB, yTicksB,
  [{name:"unchange", color:"#e0e0e0", data:bGreyCore.concat(bGreyRows)},
   {name:"down", color:"#0000f0", data:bDownCore.concat(bDownRows)},
   {name:"up", color:"#f00000", data:bUpCore.concat(bUpRows)}],
  {color:"#c8c8c8", width:1.6});

(function(){
  const pie = document.getElementById("pie");
  const cx = 379.5, cy = 573.5, R = 163;
  let cum = 0;
  pieValues.forEach(function(v, i){
    const a0 = cum * 3.6 * Math.PI / 180;
    cum += v;
    const a1 = cum * 3.6 * Math.PI / 180;
    const p = mk("path", pie);
    const large = (a1 - a0) > Math.PI ? 1 : 0;
    p.setAttribute("d", "M" + cx + " " + cy +
      "L" + (cx + R * Math.sin(a0)).toFixed(2) + " " + (cy - R * Math.cos(a0)).toFixed(2) +
      "A" + R + " " + R + " 0 " + large + " 1 " + (cx + R * Math.sin(a1)).toFixed(2) + " " + (cy - R * Math.cos(a1)).toFixed(2) + "Z");
    p.setAttribute("fill", pieColors[i % pieColors.length]);
    p.setAttribute("stroke", "#fff");
    p.setAttribute("stroke-width", i >= 30 ? "1.35" : "1");
    
    
  });
})();
</script>
</body>
</html>
